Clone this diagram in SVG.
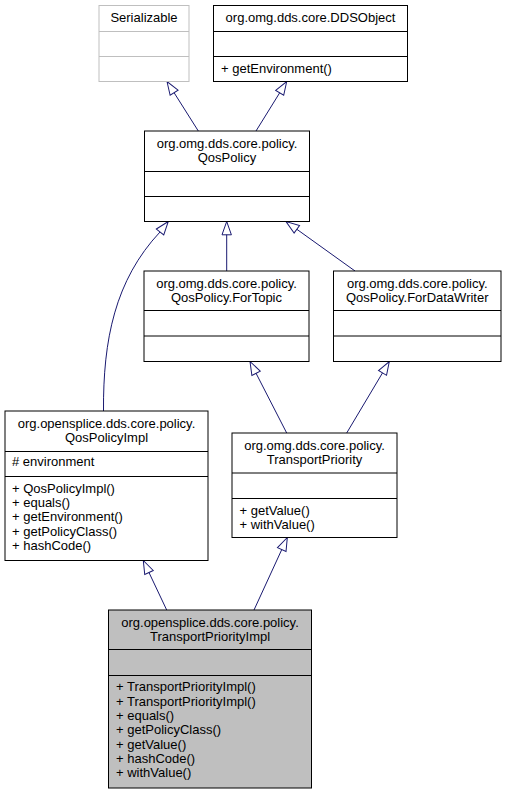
<svg xmlns="http://www.w3.org/2000/svg" width="507" height="795" viewBox="0 0 507 795">
<style>
text{font-family:"Liberation Sans",Arial,Helvetica,sans-serif;font-size:13px;fill:#000}
.t{text-anchor:middle}
.box rect{fill:#fff;stroke:#000;stroke-width:1}
.box line{stroke:#000;stroke-width:1}
.gray rect{stroke:#bfbfbf}
.gray line{stroke:#bfbfbf}
.cur rect{fill:#bfbfbf}
.edge{fill:none;stroke:#191970;stroke-width:1;marker-end:url(#tri)}
</style>
<defs>
<marker id="tri" markerUnits="userSpaceOnUse" markerWidth="14" markerHeight="10" refX="13.3" refY="4.7" orient="auto" overflow="visible">
<path d="M0,0 L13.3,4.7 L0,9.4 Z" fill="#fff" stroke="#191970" stroke-width="1"/>
</marker>
</defs>
<rect width="507" height="795" fill="#fff"/>
<g id="connectors">
<path class="edge" d="M198.3,131 L167,81.5"/>
<path class="edge" d="M256,131 L286.7,81.5"/>
<path class="edge" d="M226.7,271 L226.7,221.5"/>
<path class="edge" d="M355,271 L286,221.5"/>
<path class="edge" d="M103.5,411 C103,340 115,280 160,232 L168.3,221.5"/>
<path class="edge" d="M286.7,433 L250,361.5"/>
<path class="edge" d="M346.7,433 L389.3,361.5"/>
<path class="edge" d="M166.7,610 L143.3,560.5"/>
<path class="edge" d="M254,610 L287.3,537.5"/>
</g>
<g id="Serializable" class="box gray">
<rect x="99" y="5.5" width="90" height="76"/>
<line x1="99" y1="31.5" x2="189" y2="31.5"/>
<line x1="99" y1="56.5" x2="189" y2="56.5"/>
<text class="t" x="144" y="21.5">Serializable</text>
</g>
<g id="DDSObject" class="box">
<rect x="213.5" y="5.5" width="194" height="76"/>
<line x1="213.5" y1="31.5" x2="407.5" y2="31.5"/>
<line x1="213.5" y1="56.5" x2="407.5" y2="56.5"/>
<text class="t" x="310.5" y="21.5">org.omg.dds.core.DDSObject</text>
<text x="221" y="72.5">+ getEnvironment()</text>
</g>
<g id="QosPolicy" class="box">
<rect x="144.5" y="131" width="165" height="90.5"/>
<line x1="144.5" y1="171.5" x2="309.5" y2="171.5"/>
<line x1="144.5" y1="196.5" x2="309.5" y2="196.5"/>
<text class="t" x="227" y="147.5">org.omg.dds.core.policy.</text>
<text class="t" x="227" y="162">QosPolicy</text>
</g>
<g id="ForTopic" class="box">
<rect x="144" y="271" width="165" height="90.5"/>
<line x1="144" y1="310.5" x2="309" y2="310.5"/>
<line x1="144" y1="336" x2="309" y2="336"/>
<text class="t" x="226.5" y="287.5">org.omg.dds.core.policy.</text>
<text class="t" x="226.5" y="302">QosPolicy.ForTopic</text>
</g>
<g id="ForDataWriter" class="box">
<rect x="333.5" y="271" width="167.5" height="90.5"/>
<line x1="333.5" y1="310.5" x2="501" y2="310.5"/>
<line x1="333.5" y1="336" x2="501" y2="336"/>
<text class="t" x="417.25" y="287.5">org.omg.dds.core.policy.</text>
<text class="t" x="417.25" y="302">QosPolicy.ForDataWriter</text>
</g>
<g id="QosPolicyImpl" class="box">
<rect x="5" y="411" width="203" height="149.5"/>
<line x1="5" y1="451.5" x2="208" y2="451.5"/>
<line x1="5" y1="476.5" x2="208" y2="476.5"/>
<text class="t" x="106.5" y="427.5">org.opensplice.dds.core.policy.</text>
<text class="t" x="106.5" y="442">QosPolicyImpl</text>
<text x="12" y="466">#  environment</text>
<text x="12" y="492.5">+ QosPolicyImpl()</text>
<text x="12" y="506.9">+ equals()</text>
<text x="12" y="521.3">+ getEnvironment()</text>
<text x="12" y="535.7">+ getPolicyClass()</text>
<text x="12" y="550.1">+ hashCode()</text>
</g>
<g id="TransportPriority" class="box">
<rect x="232" y="433" width="165" height="104.5"/>
<line x1="232" y1="473" x2="397" y2="473"/>
<line x1="232" y1="498.5" x2="397" y2="498.5"/>
<text class="t" x="314.5" y="449.5">org.omg.dds.core.policy.</text>
<text class="t" x="314.5" y="464">TransportPriority</text>
<text x="239.5" y="514.5">+ getValue()</text>
<text x="239.5" y="529">+ withValue()</text>
</g>
<g id="TransportPriorityImpl" class="box cur">
<rect x="108.5" y="610" width="203" height="178"/>
<line x1="108.5" y1="649.5" x2="311.5" y2="649.5"/>
<line x1="108.5" y1="675.5" x2="311.5" y2="675.5"/>
<text class="t" x="210" y="626.5">org.opensplice.dds.core.policy.</text>
<text class="t" x="210" y="641">TransportPriorityImpl</text>
<text x="116" y="691.3">+ TransportPriorityImpl()</text>
<text x="116" y="705.6">+ TransportPriorityImpl()</text>
<text x="116" y="720">+ equals()</text>
<text x="116" y="734.3">+ getPolicyClass()</text>
<text x="116" y="748.7">+ getValue()</text>
<text x="116" y="763">+ hashCode()</text>
<text x="116" y="777.4">+ withValue()</text>
</g>
</svg>
